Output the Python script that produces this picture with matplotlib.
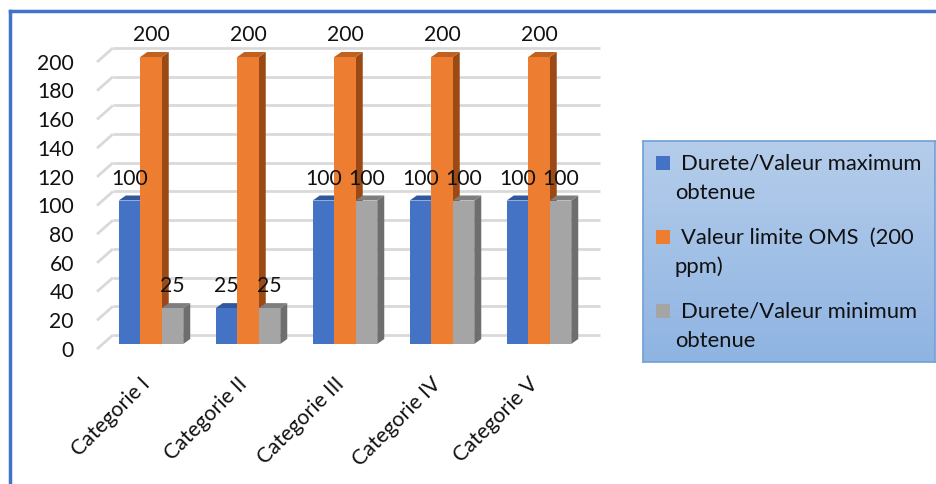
import numpy as np
import matplotlib
matplotlib.use("Agg")
import matplotlib.pyplot as plt
from matplotlib.patches import Polygon, Rectangle
from matplotlib.lines import Line2D
from matplotlib.colors import LinearSegmentedColormap

# ---- data ----
categories = ["Categorie I", "Categorie II", "Categorie III", "Categorie IV", "Categorie V"]
series_names = ["Durete/Valeur maximum\nobtenue",
                "Valeur limite OMS  (200\nppm)",
                "Durete/Valeur minimum\nobtenue"]
valeur_max = [100, 25, 100, 100, 100]
limite_oms = [200, 200, 200, 200, 200]
valeur_min = [25, 25, 100, 100, 100]
yticks = [0, 20, 40, 60, 80, 100, 120, 140, 160, 180, 200]

series = [valeur_max, limite_oms, valeur_min]
front = ["#4472C4", "#ED7D31", "#A5A5A5"]
side = ["#2F528F", "#9C4A15", "#6E6E6E"]
top = ["#30589E", "#C0611F", "#7E7E7E"]

W, H = 936, 485
fig = plt.figure(figsize=(W / 100, H / 100), dpi=100)
fig.patch.set_facecolor("white")

# main drawing axes: x = category index, y = value
ax = fig.add_axes([0, 0, 1, 1])
ax.set_xlim(-151 / 97, (W - 151) / 97)
ax.set_ylim((345 - H) / 1.435, 345 / 1.435)
ax.axis("off")

FONT = "Lato"
FS = 15.2
FS_LEG = 15.8
TXT = "#111111"

# pseudo-3D offsets (depth)
ddx = 7 / 97
ddy = 5 / 1.435
back_dy = 6.3
front_dy = -3.5
wall_x0 = (97 - 151) / 97
wall_x1 = (113 - 151) / 97
grid_x1 = (600 - 151) / 97

# gridlines on side wall and back wall
for v in yticks:
    ax.plot([wall_x0, wall_x1], [v + front_dy, v + back_dy], color="#D9D9D9", lw=2, zorder=1,
            solid_capstyle="butt")
    ax.plot([wall_x1, grid_x1], [v + back_dy, v + back_dy], color="#D9D9D9", lw=2, zorder=1,
            solid_capstyle="butt")
    ax.text((74 - 151) / 97, v - 4, str(v), ha="right", va="center", fontsize=FS,
            family=FONT, color=TXT)

bw = 21.5 / 97
x = np.arange(len(categories))
z = 2
for i in range(len(categories)):
    for s in range(3):
        val = series[s][i]
        xc = x[i] + (s - 1) * bw
        xl, xr = xc - bw / 2, xc + bw / 2
        ax.bar([xc], [val], width=bw, color=front[s], zorder=z + 0.5, linewidth=0)
        ax.add_patch(Polygon([(xr, 0), (xr + ddx, ddy), (xr + ddx, val + ddy), (xr, val)],
                             closed=True, facecolor=side[s], edgecolor="none", zorder=z))
        ax.add_patch(Polygon([(xl, val), (xr, val), (xr + ddx, val + ddy), (xl + ddx, val + ddy)],
                             closed=True, facecolor=top[s], edgecolor="none", zorder=z))
        z += 1
        if s == 1 or val < limite_oms[i]:
            ax.text(xc, val + 16, str(val), ha="center", va="center", fontsize=FS,
                    family=FONT, color=TXT, zorder=50)
    ax.text(x[i] + 0.03, -20, categories[i], rotation=45, ha="right", va="top",
            fontsize=FS, family=FONT, color=TXT)


def fx(px):
    return px / W


def fy(py):
    return 1 - py / H


# legend box with vertical gradient
lx0, ly0, lx1, ly1 = 643, 142, 935, 363
lax = fig.add_axes([fx(lx0), fy(ly1), (lx1 - lx0) / W, (ly1 - ly0) / H])
grad = np.linspace(0, 1, 256).reshape(-1, 1)
cmap = LinearSegmentedColormap.from_list("lg", ["#B5CDEB", "#8FB4E2"])
lax.imshow(grad, aspect="auto", cmap=cmap, extent=[0, 1, 0, 1], origin="upper")
lax.set_xlim(0, 1)
lax.set_ylim(0, 1)
lax.set_xticks([])
lax.set_yticks([])
for sp in lax.spines.values():
    sp.set_color("#6FA0D8")
    sp.set_linewidth(1.2)

entry_y = [164, 238, 312]
for s in range(3):
    cy = entry_y[s]
    fig.patches.append(Rectangle((fx(656), fy(cy + 7)), 14 / W, 14 / H, transform=fig.transFigure,
                                 facecolor=front[s], edgecolor="none", zorder=10))
    l1, l2 = series_names[s].split("\n")
    fig.text(fx(681), fy(cy), l1, ha="left", va="center", fontsize=FS_LEG, family=FONT, color=TXT)
    fig.text(fx(675), fy(cy + 29), l2, ha="left", va="center", fontsize=FS_LEG, family=FONT, color=TXT)

# frame lines (top and left)
fig.lines.append(Line2D([fx(10), fx(W)], [fy(12), fy(12)], transform=fig.transFigure,
                        color="#4472C4", lw=2.5))
fig.lines.append(Line2D([fx(10), fx(10)], [fy(12), fy(H)], transform=fig.transFigure,
                        color="#4472C4", lw=2.5))

fig.savefig("out.png", dpi=100, facecolor="white")
